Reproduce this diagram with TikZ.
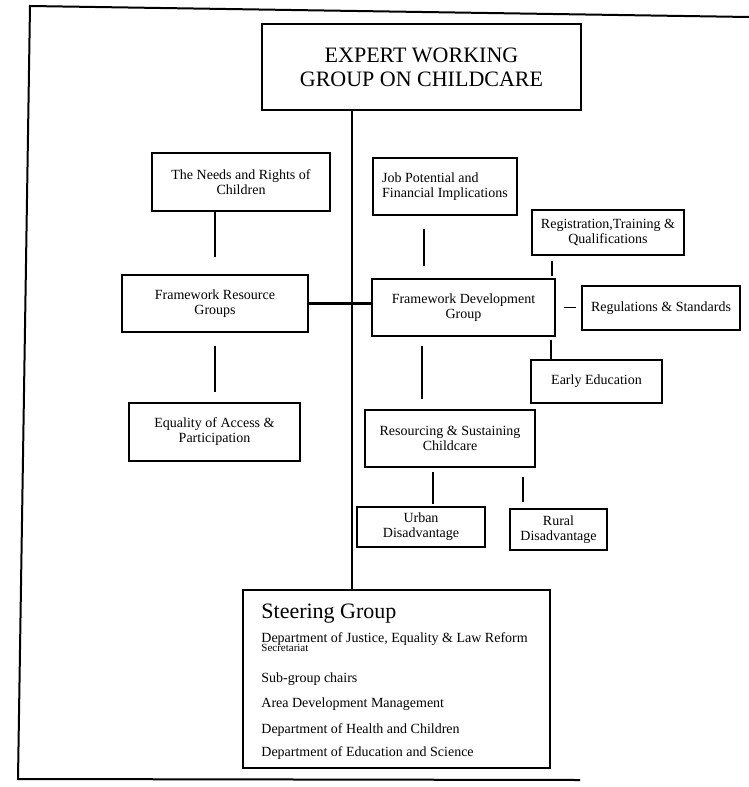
\documentclass[tikz,border=0pt]{standalone}
\usepackage{fontspec}
\setmainfont{Liberation Serif}
\begin{document}
\begin{tikzpicture}[x=0.5pt,y=-0.5pt,
		box/.style={draw,line width=0.8pt,inner sep=1pt,align=center,font=\fontsize{7}{7.5}\selectfont},
		link/.style={line width=0.8pt},
		line/.style={anchor=base west,inner sep=0pt,font=\fontsize{7}{8}\selectfont}]
	\useasboundingbox (0,0) rectangle (749,787);
	\draw[line width=1pt] (749,17) -- (30,6) -- (18,779) -- (580,780);

	\node[box,line width=1pt,minimum width=159.5pt,minimum height=43pt,font=\fontsize{11}{12}\selectfont] (ewg) at (421.5,67) {EXPERT WORKING\\GROUP ON CHILDCARE};
	\node[box,minimum width=89pt,minimum height=29pt] (needs) at (241,182) {The Needs and Rights of\\Children};
	\node[box,align=left,minimum width=72pt,minimum height=28.5pt] (job) at (445,186.5) {Job Potential and\\Financial Implications};
	\node[box,minimum width=76pt,minimum height=22.5pt] (reg) at (608,232.5) {Registration,Training \&\\Qualifications};
	\node[box,minimum width=93pt,minimum height=28.5pt] (frg) at (215,303.5) {Framework Resource\\Groups};
	\node[box,minimum width=91.5pt,minimum height=28.5pt] (fdg) at (463.5,307.5) {Framework Development\\Group};
	\node[box,minimum width=79pt,minimum height=22pt] (regs) at (661,308) {Regulations \& Standards};
	\node[box,minimum width=65.5pt,minimum height=21.5pt] (early) at (596.5,381.5) {Early Education};
	\node[box,minimum width=85.5pt,minimum height=29pt] (equal) at (214.5,432) {Equality of Access \&\\Participation};
	\node[box,minimum width=85pt,minimum height=28.5pt] (res) at (450,438.5) {Resourcing \& Sustaining\\Childcare};
	\node[box,minimum width=64pt,minimum height=20pt] (urban) at (421,527) {Urban\\Disadvantage};
	\node[box,minimum width=48.5pt,minimum height=20.5pt] (rural) at (558.5,529.5) {Rural\\Disadvantage};
	\node[box,minimum width=153.5pt,minimum height=89pt] (steer) at (396.5,679) {};

	\node[line,font=\fontsize{11}{12}\selectfont] (sgtitle) at (261,618) {Steering Group};
	\node[line,font=\fontsize{5.5}{6}\selectfont] (sgsec) at (261,651) {Secretariat};
	\foreach \y/\t [count=\i] in {642/{Department of Justice, Equality \& Law Reform},
			682/{Sub-group chairs},707/{Area Development Management},
			733/{Department of Health and Children},756/{Department of Education and Science}}
		\node[line] (sg\i) at (261,\y) {\t};

	\coordinate (trunk) at (352,0);
	\draw[line width=1.2pt] (ewg.south -| trunk) -- (steer.north -| trunk);
	\draw[line width=1.2pt] (frg.east) -- (frg.east -| fdg.west);

	\draw[link,shorten >=8.5pt] (needs.south -| frg.north) -- (frg.north);
	\draw[link,shorten <=6.5pt,shorten >=5pt] (frg.south) -- (frg.south |- equal.north);
	\draw[link,shorten <=6.5pt,shorten >=6pt] ([xshift=-10.5pt]job.south) -- ([xshift=-10.5pt]job.south |- fdg.north);
	\draw[link,shorten <=2.5pt,shorten >=1pt] ([xshift=-28pt]reg.south) -- ([xshift=-28pt]reg.south |- fdg.north);
	\draw[link,shorten <=4pt,shorten >=2.5pt] (fdg.east) -- (fdg.east -| regs.west);
	\draw[link,shorten <=1.5pt] ([xshift=-22.75pt]early.north |- fdg.south) -- ([xshift=-22.75pt]early.north);
	\draw[link,shorten <=4.5pt,shorten >=5pt] ([xshift=-14pt]res.north |- fdg.south) -- ([xshift=-14pt]res.north);
	\draw[link,shorten <=2pt,shorten >=1pt] ([xshift=6pt]urban.north |- res.south) -- ([xshift=6pt]urban.north);
	\draw[link,shorten <=4.5pt,shorten >=3pt] ([xshift=-17.75pt]rural.north |- res.south) -- ([xshift=-17.75pt]rural.north);
\end{tikzpicture}
\end{document}
